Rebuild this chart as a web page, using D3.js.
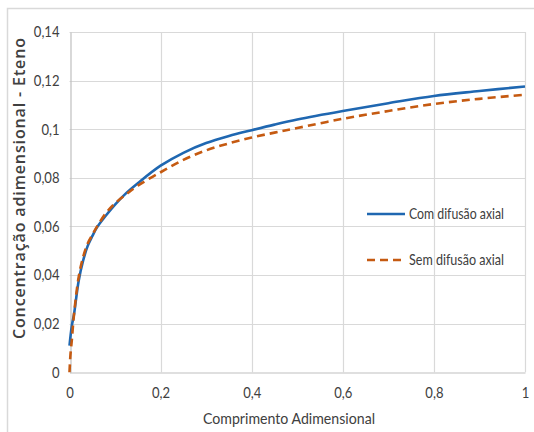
<!DOCTYPE html>
<html><head><meta charset="utf-8">
<script src="https://cdn.jsdelivr.net/npm/d3@7"></script>
<style>body{margin:0;background:#fff}svg{display:block}</style>
</head><body>
<svg id="c" width="534" height="432"></svg>
<script>
const xTicks = [0, 0.2, 0.4, 0.6, 0.8, 1];
const yTicks = [0, 0.02, 0.04, 0.06, 0.08, 0.1, 0.12, 0.14];
const seriesNames = ["Com difusão axial", "Sem difusão axial"];
const comX = [0, 0.005, 0.01, 0.02, 0.03, 0.04, 0.05, 0.06, 0.08, 0.1, 0.125, 0.15, 0.2, 0.25, 0.3, 0.35, 0.4, 0.45, 0.5, 0.6, 0.7, 0.8, 0.9, 1.0];
const comY = [0.011, 0.019, 0.024, 0.0375, 0.046, 0.052, 0.056, 0.0595, 0.0645, 0.069, 0.0738, 0.0778, 0.085, 0.0903, 0.0943, 0.0972, 0.0996, 0.1019, 0.104, 0.1075, 0.1107, 0.1137, 0.1157, 0.1176];
const semX = [0, 0.002, 0.005, 0.01, 0.02, 0.03, 0.04, 0.05, 0.06, 0.08, 0.1, 0.125, 0.15, 0.2, 0.25, 0.3, 0.35, 0.4, 0.45, 0.5, 0.6, 0.7, 0.8, 0.9, 1.0];
const semY = [0, 0.007, 0.013, 0.024, 0.039, 0.0475, 0.053, 0.0565, 0.0598, 0.0655, 0.0695, 0.0733, 0.0768, 0.0823, 0.0874, 0.0913, 0.0942, 0.0966, 0.0986, 0.1005, 0.1043, 0.1075, 0.1104, 0.1125, 0.1142];

const svg = d3.select("#c");
const W = 534, H = 432;
const m = {left: 69.5, right: 534 - 525, top: 32, bottom: 432 - 372.3};
const x = d3.scaleLinear().domain([0, 1]).range([m.left, W - m.right]);
const y = d3.scaleLinear().domain([0, 0.14]).range([H - m.bottom, m.top]);
const fmt = d => d === 0 ? "0" : String(+d.toFixed(2)).replace(".", ",");
const font = "Lato, 'Open Sans', sans-serif";
const txtColor = "#404040";
const squeeze = 0.87;

function fitTo(node, target, mode) {
  const w = node.getComputedTextLength();
  if (w > 0) {
    node.setAttribute("textLength", target.toFixed(2));
    node.setAttribute("lengthAdjust", mode || "spacingAndGlyphs");
  }
}

// outer frame
svg.append("rect").attr("x", 7.5).attr("y", 8.5).attr("width", 540).attr("height", 440)
  .attr("fill", "none").attr("stroke", "#d9d9d9").attr("stroke-width", 1.5);

// gridlines
svg.append("g").selectAll("line").data(yTicks.filter(d => d > 0)).join("line")
  .attr("x1", x(0)).attr("x2", x(1)).attr("y1", d => Math.round(y(d)) + 0.5).attr("y2", d => Math.round(y(d)) + 0.5)
  .attr("stroke", "#d9d9d9").attr("stroke-width", 1.2);
svg.append("g").selectAll("line").data(xTicks.filter(d => d > 0)).join("line")
  .attr("y1", y(0)).attr("y2", y(0.14)).attr("x1", d => Math.round(x(d)) + 0.5).attr("x2", d => Math.round(x(d)) + 0.5)
  .attr("stroke", "#d9d9d9").attr("stroke-width", 1.2);

// axes
const xAxis = svg.append("g").attr("transform", `translate(0,${Math.round(y(0)) + 0.5})`)
  .call(d3.axisBottom(x).tickValues(xTicks).tickFormat(fmt).tickSize(0).tickPadding(15));
const yAxis = svg.append("g").attr("transform", `translate(${Math.round(x(0)) + 0.5},0)`)
  .call(d3.axisLeft(y).tickValues(yTicks).tickFormat(fmt).tickSize(0).tickPadding(11));
[xAxis, yAxis].forEach(a => {
  a.select(".domain").attr("stroke", "#bfbfbf").attr("stroke-width", 1.2);
  a.selectAll("text").attr("font-family", font).attr("font-size", 15).attr("fill", txtColor)
    .each(function() { fitTo(this, this.getComputedTextLength() * squeeze); });
});

// lines
const line = d3.line().x(d => x(d[0])).y(d => y(d[1])).curve(d3.curveCatmullRom.alpha(0.5));
const comData = comX.map((v, i) => [v, comY[i]]);
const semData = semX.map((v, i) => [v, semY[i]]);
svg.append("path").datum(comData).attr("d", line).attr("fill", "none")
  .attr("stroke", "#1f67b1").attr("stroke-width", 2.6);
svg.append("path").datum(semData).attr("d", line).attr("fill", "none")
  .attr("stroke", "#c55a11").attr("stroke-width", 2.6).attr("stroke-dasharray", "8,5");

// legend
const leg = [{name: seriesNames[0], color: "#1f67b1", dash: null, yy: 214},
             {name: seriesNames[1], color: "#c55a11", dash: "8,5", yy: 260}];
leg.forEach(l => {
  svg.append("line").attr("x1", 367).attr("x2", 405).attr("y1", l.yy).attr("y2", l.yy)
    .attr("stroke", l.color).attr("stroke-width", 2.6).attr("stroke-dasharray", l.dash);
  const t = svg.append("text").attr("x", 409).attr("y", l.yy).attr("dy", "0.35em")
    .attr("font-family", font).attr("font-size", 15).attr("fill", txtColor).text(l.name);
  fitTo(t.node(), 95);
});

// axis titles
const xt = svg.append("text").attr("x", 203).attr("y", 424)
  .attr("font-family", font).attr("font-size", 16).attr("fill", txtColor).text("Comprimento Adimensional");
fitTo(xt.node(), 172);
const yt = svg.append("text").attr("transform", "translate(25,339) rotate(-90)")
  .attr("font-family", "'Open Sans', sans-serif").attr("font-weight", 600)
  .attr("font-size", 16).attr("fill", txtColor).text("Concentração adimensional - Eteno");
fitTo(yt.node(), 301, "spacing");
</script>
</body></html>
